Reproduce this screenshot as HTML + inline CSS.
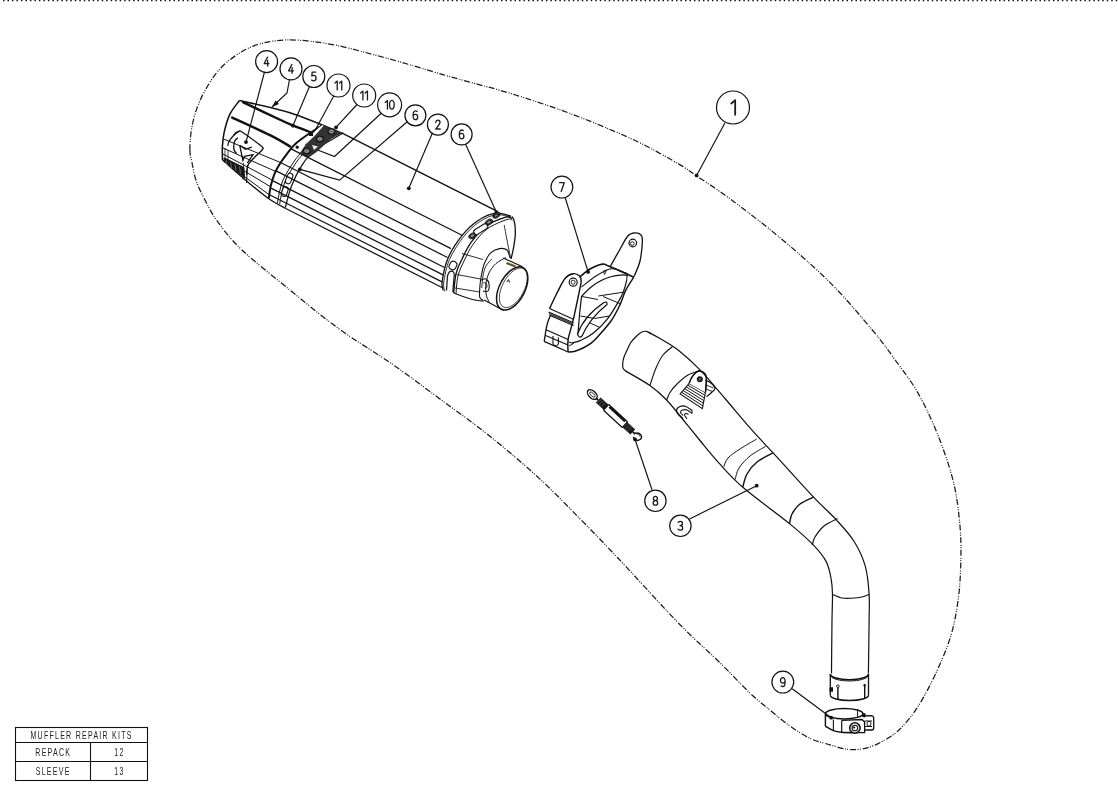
<!DOCTYPE html>
<html><head><meta charset="utf-8"><style>
html,body{margin:0;padding:0;background:#fff;width:1118px;height:791px;overflow:hidden}
svg{position:absolute;left:0;top:0}

.cl{font-family:"Liberation Sans",sans-serif;font-size:12px;fill:#1a1a1a;stroke:#fff;stroke-width:0.3;text-anchor:middle}
.cl1{font-family:"Liberation Sans",sans-serif;font-size:20px;fill:#222;text-anchor:middle}
.tb{font-family:"Liberation Sans",sans-serif;font-size:10.6px;fill:#222;text-anchor:middle;letter-spacing:1.9px}
</style></head><body>
<svg width="1118" height="791" viewBox="0 0 1118 791">
<line x1="0" y1="0.5" x2="1118" y2="0.5" stroke="#111" stroke-width="1.3" stroke-dasharray="1.5 2.9867" stroke-dashoffset="1.48"/>
<path d="M189.9,150.0 C189.8,144.6 190.3,136.9 191.4,130.1 C192.5,123.2 194.3,115.7 196.7,108.9 C199.1,102.1 202.0,95.8 205.8,89.2 C209.6,82.6 214.1,75.2 219.4,69.4 C224.7,63.6 231.5,58.3 237.6,54.3 C243.7,50.3 249.2,47.5 255.8,45.2 C262.4,42.9 269.4,41.4 277.1,40.6 C284.8,39.8 292.0,39.6 301.8,40.4 C311.6,41.2 324.2,42.9 335.8,45.2 C347.4,47.5 359.7,51.0 371.6,54.1 C383.5,57.2 395.4,60.6 407.3,64.0 C419.2,67.4 431.2,71.3 443.1,74.7 C455.0,78.1 469.4,82.0 478.9,84.6 C488.4,87.2 490.5,87.5 500.0,90.3 C509.5,93.1 523.9,97.5 535.8,101.5 C547.7,105.5 559.7,109.5 571.6,114.0 C583.5,118.5 595.4,123.2 607.3,128.3 C619.2,133.4 631.2,138.4 643.1,144.4 C655.0,150.4 670.0,158.9 678.9,164.1 C687.8,169.3 687.8,170.0 696.4,175.8 C705.0,181.7 716.5,188.7 730.6,199.2 C744.8,209.7 764.6,224.8 781.3,238.8 C798.0,252.8 815.4,267.9 830.6,283.1 C845.8,298.3 861.5,317.2 872.3,330.0 C883.1,342.8 887.6,349.5 895.2,360.0 C902.8,370.5 910.7,380.2 917.9,392.9 C925.1,405.5 932.3,421.1 938.2,435.9 C944.1,450.6 949.7,467.1 953.3,481.4 C956.9,495.7 958.3,509.0 959.6,521.8 C960.9,534.6 961.1,545.3 960.9,558.0 C960.7,570.7 960.1,584.9 958.4,597.9 C956.7,610.9 954.6,623.2 950.8,635.9 C947.0,648.5 941.1,662.0 935.6,673.8 C930.1,685.6 923.8,697.4 917.9,706.6 C912.0,715.8 905.9,723.2 900.0,729.0 C894.1,734.8 888.2,738.2 882.4,741.4 C876.6,744.6 871.0,747.0 865.3,748.3 C859.6,749.6 854.2,750.0 848.3,749.4 C842.4,748.8 836.2,746.6 830.0,744.8 C823.8,743.0 817.4,741.8 810.9,738.8 C804.4,735.8 797.5,731.3 790.7,726.6 C784.0,721.9 777.1,716.0 770.4,710.4 C763.6,704.8 759.0,701.6 750.2,693.3 C741.5,685.0 729.6,672.1 717.9,660.7 C706.2,649.3 696.7,641.8 680.0,624.7 C663.3,607.6 634.4,575.4 617.9,558.0 C601.4,540.6 594.3,533.2 581.3,520.1 C568.3,507.0 555.1,493.0 540.0,479.1 C524.9,465.2 507.3,450.2 490.6,436.8 C473.9,423.4 456.7,411.3 440.0,399.0 C423.3,386.7 407.3,374.6 390.6,363.0 C373.9,351.4 356.7,341.7 340.0,329.6 C323.3,317.5 306.9,303.9 290.6,290.6 C274.3,277.3 254.1,261.4 242.0,250.0 C229.9,238.6 224.0,230.3 217.9,222.1 C211.8,213.9 208.9,207.3 205.3,200.6 C201.7,193.8 198.6,187.9 196.4,181.6 C194.2,175.3 193.1,167.9 192.0,162.6 C190.9,157.3 190.0,155.4 189.9,150.0 Z" fill="none" stroke="#1a1a1a" stroke-width="1.25" stroke-dasharray="6 2 1 1.3 1 1.5"/>
<circle cx="266.6" cy="61.6" r="11.0" fill="none" stroke="#111" stroke-width="1.2"/>
<path d="M3.5,0 L0.2,6.4 L5.0,6.4 M3.7,3.2 L3.7,8.8" transform="translate(264.00 57.20) scale(1.000)" fill="none" stroke="#1a1a1a" stroke-width="1.30" stroke-linecap="round" stroke-linejoin="round"/>
<circle cx="291.0" cy="68.9" r="11.0" fill="none" stroke="#111" stroke-width="1.2"/>
<path d="M3.5,0 L0.2,6.4 L5.0,6.4 M3.7,3.2 L3.7,8.8" transform="translate(288.40 64.50) scale(1.000)" fill="none" stroke="#1a1a1a" stroke-width="1.30" stroke-linecap="round" stroke-linejoin="round"/>
<circle cx="313.8" cy="76.5" r="11.0" fill="none" stroke="#111" stroke-width="1.2"/>
<path d="M4.5,0 L0.9,0 L0.5,4.0 C1.1,3.5 1.7,3.3 2.4,3.3 C3.9,3.3 4.8,4.4 4.8,6.0 C4.8,7.7 3.8,8.8 2.4,8.8 C1.5,8.8 0.8,8.5 0.2,8.0" transform="translate(311.30 72.10) scale(1.000)" fill="none" stroke="#1a1a1a" stroke-width="1.30" stroke-linecap="round" stroke-linejoin="round"/>
<circle cx="338.5" cy="85.5" r="11.5" fill="none" stroke="#111" stroke-width="1.2"/>
<path d="M0.3,2.0 L2.6,0 L2.6,8.8" transform="translate(334.65 81.10) scale(1.000)" fill="none" stroke="#1a1a1a" stroke-width="1.30" stroke-linecap="round" stroke-linejoin="round"/><path d="M0.3,2.0 L2.6,0 L2.6,8.8" transform="translate(339.15 81.10) scale(1.000)" fill="none" stroke="#1a1a1a" stroke-width="1.30" stroke-linecap="round" stroke-linejoin="round"/>
<circle cx="364.2" cy="95.5" r="11.5" fill="none" stroke="#111" stroke-width="1.2"/>
<path d="M0.3,2.0 L2.6,0 L2.6,8.8" transform="translate(360.35 91.10) scale(1.000)" fill="none" stroke="#1a1a1a" stroke-width="1.30" stroke-linecap="round" stroke-linejoin="round"/><path d="M0.3,2.0 L2.6,0 L2.6,8.8" transform="translate(364.85 91.10) scale(1.000)" fill="none" stroke="#1a1a1a" stroke-width="1.30" stroke-linecap="round" stroke-linejoin="round"/>
<circle cx="389.6" cy="104.8" r="12.0" fill="none" stroke="#111" stroke-width="1.2"/>
<path d="M0.3,2.0 L2.6,0 L2.6,8.8" transform="translate(384.85 100.40) scale(1.000)" fill="none" stroke="#1a1a1a" stroke-width="1.30" stroke-linecap="round" stroke-linejoin="round"/><path d="M2.5,0 C1.0,0 0.2,1.6 0.2,4.4 C0.2,7.2 1.0,8.8 2.5,8.8 C4.0,8.8 4.8,7.2 4.8,4.4 C4.8,1.6 4.0,0 2.5,0 Z" transform="translate(389.35 100.40) scale(1.000)" fill="none" stroke="#1a1a1a" stroke-width="1.30" stroke-linecap="round" stroke-linejoin="round"/>
<circle cx="415.4" cy="115.3" r="10.5" fill="none" stroke="#111" stroke-width="1.2"/>
<path d="M4.2,0.6 C3.7,0.2 3.1,0 2.5,0 C1.0,0 0.2,1.6 0.2,4.6 C0.2,7.4 1.0,8.8 2.5,8.8 C3.9,8.8 4.8,7.6 4.8,6.0 C4.8,4.4 3.9,3.4 2.5,3.4 C1.3,3.4 0.4,4.3 0.2,5.3" transform="translate(412.90 110.90) scale(1.000)" fill="none" stroke="#1a1a1a" stroke-width="1.30" stroke-linecap="round" stroke-linejoin="round"/>
<circle cx="437.9" cy="124.6" r="10.5" fill="none" stroke="#111" stroke-width="1.2"/>
<path d="M0.3,2.1 C0.5,0.6 1.4,0 2.5,0 C3.8,0 4.6,0.9 4.6,2.2 C4.6,3.5 3.8,4.4 0.3,8.8 L4.8,8.8" transform="translate(435.40 120.20) scale(1.000)" fill="none" stroke="#1a1a1a" stroke-width="1.30" stroke-linecap="round" stroke-linejoin="round"/>
<circle cx="461.6" cy="134.4" r="10.5" fill="none" stroke="#111" stroke-width="1.2"/>
<path d="M4.2,0.6 C3.7,0.2 3.1,0 2.5,0 C1.0,0 0.2,1.6 0.2,4.6 C0.2,7.4 1.0,8.8 2.5,8.8 C3.9,8.8 4.8,7.6 4.8,6.0 C4.8,4.4 3.9,3.4 2.5,3.4 C1.3,3.4 0.4,4.3 0.2,5.3" transform="translate(459.10 130.00) scale(1.000)" fill="none" stroke="#1a1a1a" stroke-width="1.30" stroke-linecap="round" stroke-linejoin="round"/>
<circle cx="561.9" cy="187.1" r="10.9" fill="none" stroke="#111" stroke-width="1.2"/>
<path d="M0.2,0 L4.8,0 L1.8,8.8" transform="translate(559.40 182.70) scale(1.000)" fill="none" stroke="#1a1a1a" stroke-width="1.30" stroke-linecap="round" stroke-linejoin="round"/>
<circle cx="655.4" cy="500.8" r="10.7" fill="none" stroke="#111" stroke-width="1.2"/>
<path d="M2.5,4.2 C1.2,4.2 0.5,3.3 0.5,2.1 C0.5,0.9 1.3,0 2.5,0 C3.7,0 4.5,0.9 4.5,2.1 C4.5,3.3 3.8,4.2 2.5,4.2 C1.0,4.2 0.2,5.2 0.2,6.5 C0.2,7.9 1.1,8.8 2.5,8.8 C3.9,8.8 4.8,7.9 4.8,6.5 C4.8,5.2 4.0,4.2 2.5,4.2 Z" transform="translate(652.90 496.40) scale(1.000)" fill="none" stroke="#1a1a1a" stroke-width="1.30" stroke-linecap="round" stroke-linejoin="round"/>
<circle cx="680.4" cy="525.8" r="10.7" fill="none" stroke="#111" stroke-width="1.2"/>
<path d="M0.3,0.9 C0.9,0.3 1.6,0 2.5,0 C3.8,0 4.6,0.9 4.6,2.2 C4.6,3.5 3.7,4.3 2.1,4.3 C3.8,4.3 4.8,5.2 4.8,6.5 C4.8,7.9 3.8,8.8 2.4,8.8 C1.5,8.8 0.8,8.5 0.2,7.9" transform="translate(677.90 521.40) scale(1.000)" fill="none" stroke="#1a1a1a" stroke-width="1.30" stroke-linecap="round" stroke-linejoin="round"/>
<circle cx="782.8" cy="682.1" r="10.9" fill="none" stroke="#111" stroke-width="1.2"/>
<path d="M0.8,8.2 C1.3,8.6 1.9,8.8 2.5,8.8 C4.0,8.8 4.8,7.2 4.8,4.2 C4.8,1.4 4.0,0 2.5,0 C1.1,0 0.2,1.2 0.2,2.8 C0.2,4.4 1.1,5.4 2.5,5.4 C3.7,5.4 4.6,4.5 4.8,3.5" transform="translate(780.30 677.70) scale(1.000)" fill="none" stroke="#1a1a1a" stroke-width="1.30" stroke-linecap="round" stroke-linejoin="round"/>
<circle cx="733" cy="107.5" r="16.5" fill="none" stroke="#111" stroke-width="1.2"/>
<path d="M0.3,2.0 L2.6,0 L2.6,8.8" transform="translate(730.83 100.15) scale(1.670)" fill="none" stroke="#1a1a1a" stroke-width="1.08" stroke-linecap="round" stroke-linejoin="round"/>
<path d="M724.9,123.1 L696.6,175.4" fill="none" stroke="#111" stroke-width="1.15"/>
<path d="M264.5,72.0 L246.0,142.1" fill="none" stroke="#111" stroke-width="1.15"/>
<path d="M289.5,79.5 L287.0,93.0 L272.0,107.0" fill="none" stroke="#111" stroke-width="1.15"/>
<path d="M309.5,86.5 L292.9,125.7" fill="none" stroke="#111" stroke-width="1.15"/>
<path d="M334.0,95.5 L313.1,134.0" fill="none" stroke="#111" stroke-width="1.15"/>
<path d="M357.0,104.5 L336.0,127.4" fill="none" stroke="#111" stroke-width="1.15"/>
<path d="M381.5,113.0 L334.5,156.5 L310.6,147.2" fill="none" stroke="#111" stroke-width="1.15"/>
<path d="M407.5,121.5 L339.6,180.1 L299.8,169.4" fill="none" stroke="#111" stroke-width="1.15"/>
<path d="M432.0,134.0 L408.8,188.3" fill="none" stroke="#111" stroke-width="1.15"/>
<path d="M465.5,144.0 L496.4,212.2" fill="none" stroke="#111" stroke-width="1.15"/>
<path d="M565.3,198.0 L588.1,271.9" fill="none" stroke="#111" stroke-width="1.15"/>
<path d="M652.0,489.7 L635.0,439.3" fill="none" stroke="#111" stroke-width="1.15"/>
<path d="M689.6,518.9 L756.7,485.7" fill="none" stroke="#111" stroke-width="1.15"/>
<path d="M792.2,688.7 L831.2,717.7" fill="none" stroke="#111" stroke-width="1.15"/>
<circle cx="696.6" cy="175.4" r="1.9" fill="#111"/>
<circle cx="246.0" cy="142.1" r="1.9" fill="#111"/>
<circle cx="292.9" cy="125.7" r="1.9" fill="#111"/>
<circle cx="313.1" cy="134.0" r="1.9" fill="#111"/>
<circle cx="336.0" cy="127.4" r="1.9" fill="#111"/>
<circle cx="310.6" cy="147.2" r="1.9" fill="#111"/>
<circle cx="299.8" cy="169.4" r="1.9" fill="#111"/>
<circle cx="408.8" cy="188.3" r="1.9" fill="#111"/>
<circle cx="496.4" cy="212.2" r="1.9" fill="#111"/>
<circle cx="588.1" cy="271.9" r="1.9" fill="#111"/>
<circle cx="635.0" cy="439.3" r="1.9" fill="#111"/>
<circle cx="756.7" cy="485.7" r="1.9" fill="#111"/>
<circle cx="831.2" cy="717.7" r="1.9" fill="#111"/>
<path d="M272,107 L275.5,100.5 L279,104 Z" fill="#111"/>
<path d="M239.5,100.5 C247.9,102.5 272.7,107.3 290.0,112.8 C307.3,118.3 334.2,130.1 343.1,133.6" fill="none" stroke="#111" stroke-width="1.43" />
<path d="M239.5,100.5 C237.9,102.8 232.4,109.0 229.8,114.3 C227.2,119.6 225.3,127.3 224.1,132.6 C222.9,137.9 222.7,141.6 222.4,146.2 C222.1,150.8 222.5,157.8 222.5,160.1" fill="none" stroke="#111" stroke-width="1.54" />
<path d="M222.5,160.1 C226.6,163.6 239.2,174.9 246.9,181.3 C254.6,187.7 262.0,194.0 268.5,198.5 C275.0,203.0 282.8,206.8 285.7,208.5" fill="none" stroke="#111" stroke-width="1.32" />
<path d="M242.3,101.8 C248.5,104.8 271.0,115.5 279.5,119.5 C288.0,123.5 288.2,123.5 293.5,125.7 C298.8,127.9 308.1,131.4 311.0,132.5" fill="none" stroke="#111" stroke-width="2.42" />
<path d="M231.2,117.1 C237.7,120.1 260.0,130.2 270.0,135.2 C280.0,140.2 287.5,145.0 291.0,147.0" fill="none" stroke="#111" stroke-width="2.42" />
<path d="M223.5,139.0 L280.5,162.5" fill="none" stroke="#111" stroke-width="0.99" />
<path d="M223.0,148.0 L275.5,171.4" fill="none" stroke="#111" stroke-width="0.99" />
<path d="M223.0,154.0 L273.0,180.5" fill="none" stroke="#111" stroke-width="0.99" />
<path d="M223.5,158.5 L271.0,187.0" fill="none" stroke="#111" stroke-width="0.99" />
<path d="M230.0,166.0 L269.5,195.0" fill="none" stroke="#111" stroke-width="0.99" />
<path d="M224.6,157.4 L244.4,167.2 L245.2,178.7 L223,161 Z" fill="#1a1a1a"/>
<line x1="226.0" y1="160.0" x2="227.0" y2="165.0" stroke="#bbb" stroke-width="0.5"/>
<line x1="230.5" y1="162.2" x2="231.5" y2="167.8" stroke="#bbb" stroke-width="0.5"/>
<line x1="235.0" y1="164.4" x2="236.0" y2="170.6" stroke="#bbb" stroke-width="0.5"/>
<line x1="239.5" y1="166.6" x2="240.5" y2="173.4" stroke="#bbb" stroke-width="0.5"/>
<path d="M247.5,165.0 L246.5,183.0" fill="none" stroke="#111" stroke-width="0.99" />
<path d="M243.5,163.0 L243.0,180.0" fill="none" stroke="#111" stroke-width="0.77" />
<path d="M225.0,148.0 L225.0,162.0" fill="none" stroke="#111" stroke-width="0.77" />
<path d="M228.0,150.0 L228.0,164.0" fill="none" stroke="#111" stroke-width="0.77" />
<path d="M233.4,135.7 C233.8,135.2 235.1,133.2 236.0,132.5 C236.9,131.8 238.1,131.4 239.1,131.3 C240.1,131.2 238.5,129.7 242.0,132.0 C245.5,134.3 256.6,142.4 260.0,145.0 C263.4,147.6 262.2,146.7 262.5,147.5 C262.8,148.3 264.3,147.2 262.0,150.0 C259.7,152.8 251.1,160.0 248.5,164.2 C245.9,168.4 247.0,173.2 246.7,175.0" fill="none" stroke="#111" stroke-width="1.32" />
<path d="M239.1,131.3 C238.2,132.0 235.1,134.0 233.4,135.7 C231.7,137.4 229.9,139.7 229.0,141.4 C228.1,143.1 227.9,145.2 227.7,145.9" fill="none" stroke="#111" stroke-width="1.21" />
<path d="M238.0,137.6 C237.5,138.2 235.5,139.6 234.8,141.0 C234.1,142.4 233.9,144.4 233.8,146.0 C233.7,147.6 233.8,149.1 234.2,150.3 C234.6,151.6 236.1,153.0 236.5,153.5" fill="none" stroke="#111" stroke-width="1.32" />
<path d="M239.7,145.2 L245.4,149.3 L251.7,147.1 M239.7,145.2 L242.9,160.4 L244.6,156.4 L253,154.7 L247.3,163" fill="none" stroke="#111" stroke-width="1.32" />
<path d="M322.5,125.1 C320.1,126.7 312.4,131.3 307.9,134.5 C303.4,137.7 299.0,140.5 295.3,144.0 C291.6,147.5 289.0,151.1 285.8,155.4 C282.6,159.7 278.8,165.1 276.3,170.0 C273.8,174.9 272.2,180.3 271.0,185.0 C269.8,189.7 269.2,196.2 268.8,198.4" fill="none" stroke="#111" stroke-width="1.98" />
<path d="M302.0,151.5 C300.8,152.9 297.2,156.9 295.0,160.0 C292.8,163.1 290.5,166.7 288.5,170.0 C286.5,173.3 284.5,176.3 283.0,180.0 C281.5,183.7 280.4,188.2 279.5,192.0 C278.6,195.8 277.8,201.2 277.5,203.0" fill="none" stroke="#111" stroke-width="0.99" />
<path d="M304.2,152.5 C303.0,153.9 299.4,157.9 297.2,161.0 C294.9,164.1 292.7,167.7 290.7,171.0 C288.7,174.3 286.7,177.3 285.2,181.0 C283.7,184.7 282.6,189.2 281.7,193.0 C280.8,196.8 280.0,202.2 279.7,204.0" fill="none" stroke="#111" stroke-width="0.99" />
<path d="M343.4,132.7 C341.3,134.0 335.6,137.4 330.8,140.3 C326.0,143.2 319.2,146.2 314.4,150.4 C309.5,154.6 305.5,159.7 301.7,165.6 C297.9,171.5 294.3,178.8 291.6,185.8 C288.9,192.8 286.4,203.9 285.3,207.5" fill="none" stroke="#111" stroke-width="1.21" />
<path d="M305,145.5 Q314,134 323.7,125.5 L342,133 L331,139 L316,152.5 L308,158 L300,153 Z" fill="#333"/>
<path d="M323.7,125.7 C322.1,127.2 317.1,131.8 314.0,135.0 C310.9,138.2 306.8,143.1 305.4,144.7" fill="none" stroke="#111" stroke-width="0.99" />
<path d="M322.5,125.1 Q313,131 305.4,144.7 Q316,135 323.7,125.7 Z" fill="#fff"/>
<rect x="309" y="133" width="4" height="3" fill="#111"/>
<ellipse cx="306.7" cy="151.0" rx="3.4" ry="2.7" fill="#555" stroke="#111" stroke-width="1.1"/>
<ellipse cx="306.7" cy="151.0" rx="1.8" ry="1.3" fill="none" stroke="#ddd" stroke-width="0.6"/>
<ellipse cx="319.9" cy="139.0" rx="3.4" ry="2.7" fill="#555" stroke="#111" stroke-width="1.1"/>
<ellipse cx="319.9" cy="139.0" rx="1.8" ry="1.3" fill="none" stroke="#ddd" stroke-width="0.6"/>
<ellipse cx="331.4" cy="131.5" rx="3.4" ry="2.7" fill="#555" stroke="#111" stroke-width="1.1"/>
<ellipse cx="331.4" cy="131.5" rx="1.8" ry="1.3" fill="none" stroke="#ddd" stroke-width="0.6"/>
<path d="M312,145 L318,146.5 L314,150 Z" fill="#eee"/>
<circle cx="297.2" cy="147.2" r="1.6" fill="#111"/>
<rect x="-5.5" y="-2.7" width="11" height="5.4" rx="2.7" transform="translate(289.2 178.5) rotate(-68)" fill="#fff" stroke="#111" stroke-width="1.1"/>
<rect x="-5" y="-2.7" width="10" height="5.4" rx="2.7" transform="translate(284.8 191.5) rotate(-72)" fill="#fff" stroke="#111" stroke-width="1.1"/>
<path d="M343.1,133.6 L496.4,210.9" fill="none" stroke="#111" stroke-width="1.38" />
<path d="M285.7,208.5 L443.0,288.0" fill="none" stroke="#111" stroke-width="1.26" />
<path d="M291.0,148.9 L462.0,235.2" fill="none" stroke="#111" stroke-width="1.21" />
<path d="M280.5,162.5 L451.0,248.6" fill="none" stroke="#111" stroke-width="1.21" />
<path d="M275.5,170.6 L447.5,257.5" fill="none" stroke="#111" stroke-width="1.21" />
<path d="M273.0,180.9 L444.5,267.5" fill="none" stroke="#111" stroke-width="1.21" />
<path d="M271.0,188.1 L443.0,274.9" fill="none" stroke="#111" stroke-width="1.21" />
<path d="M269.5,194.7 L442.5,282.1" fill="none" stroke="#111" stroke-width="1.21" />
<path d="M511.0,216.2 C508.4,215.7 501.2,212.4 495.6,213.2 C490.0,214.0 483.1,217.2 477.4,221.0 C471.7,224.8 466.5,229.9 461.6,236.1 C456.7,242.3 451.2,250.7 448.0,258.2 C444.8,265.7 443.0,275.6 442.2,281.0 C441.4,286.4 443.0,288.9 443.2,290.5" fill="none" stroke="#111" stroke-width="1.32" />
<path d="M512.0,218.5 C511.0,218.3 510.2,215.8 505.8,217.1 C501.4,218.4 491.1,222.4 485.3,226.6 C479.5,230.8 474.9,237.1 471.1,242.4 C467.3,247.7 464.9,252.9 462.4,258.2 C459.9,263.5 457.4,268.2 456.0,274.0 C454.6,279.8 454.1,289.8 453.7,293.0" fill="none" stroke="#111" stroke-width="1.32" />
<path d="M512.5,220.5 C511.6,220.3 511.2,218.1 507.0,219.5 C502.8,220.9 492.7,224.8 487.0,229.0 C481.3,233.2 476.8,239.3 473.0,244.5 C469.2,249.7 467.0,254.8 464.5,260.0 C462.0,265.2 459.4,270.3 458.0,276.0 C456.6,281.7 456.3,291.0 456.0,294.0" fill="none" stroke="#111" stroke-width="0.99" />
<ellipse cx="472.5" cy="235.7" rx="4" ry="2.5" transform="rotate(-28 472.5 235.7)" fill="#333" stroke="#111" stroke-width="0.8"/>
<ellipse cx="472.5" cy="235.7" rx="1.8" ry="1" transform="rotate(-28 472.5 235.7)" fill="#999"/>
<ellipse cx="489.0" cy="222.1" rx="4" ry="2.5" transform="rotate(-28 489.0 222.1)" fill="#333" stroke="#111" stroke-width="0.8"/>
<ellipse cx="489.0" cy="222.1" rx="1.8" ry="1" transform="rotate(-28 489.0 222.1)" fill="#999"/>
<ellipse cx="496.4" cy="215.2" rx="4" ry="2.5" transform="rotate(-28 496.4 215.2)" fill="#333" stroke="#111" stroke-width="0.8"/>
<ellipse cx="496.4" cy="215.2" rx="1.8" ry="1" transform="rotate(-28 496.4 215.2)" fill="#999"/>
<rect x="-7.5" y="-2.7" width="15" height="5.4" rx="2" transform="translate(480.8 229.2) rotate(-32)" fill="#fff" stroke="#111" stroke-width="1.1"/>
<path d="M511.0,217.5 C508.5,217.0 501.4,213.9 496.0,214.7 C490.6,215.5 484.0,218.7 478.5,222.5 C473.0,226.3 467.8,231.3 463.0,237.5 C458.2,243.7 452.7,252.1 449.5,259.5 C446.3,266.9 444.6,276.7 443.8,282.0 C443.0,287.3 444.6,289.9 444.8,291.5" fill="none" stroke="#111" stroke-width="0.88" />
<rect x="-4.2" y="-3.4" width="8.4" height="6.8" rx="3" transform="translate(453 265.5) rotate(-62)" fill="#fff" stroke="#111" stroke-width="1.1"/>
<path d="M446.5,290.5 L447.5,276 Q449,270.5 452.5,271.3 Q455,272.5 454,277.5 L452.8,292" fill="none" stroke="#111" stroke-width="1.21" />
<path d="M512.0,216.5 C512.4,217.4 514.0,219.0 514.5,222.0 C515.0,225.0 515.5,230.2 515.3,234.5 C515.1,238.8 514.2,243.9 513.5,248.0 C512.8,252.1 511.4,257.2 511.0,259.0" fill="none" stroke="#111" stroke-width="1.32" />
<path d="M504.2,225.0 C504.7,227.5 505.9,234.5 507.0,240.0 C508.1,245.5 510.0,255.2 510.6,258.2" fill="none" stroke="#111" stroke-width="0.88" />
<path d="M453.7,293.0 C455.8,293.8 462.1,296.2 466.0,297.5 C469.9,298.8 474.4,299.9 477.4,300.5 C480.4,301.1 482.9,300.9 484.0,301.0" fill="none" stroke="#111" stroke-width="1.21" />
<path d="M462.0,253.5 L483.0,259.5" fill="none" stroke="#111" stroke-width="0.88" />
<path d="M456.9,274.5 L480.6,279.0" fill="none" stroke="#111" stroke-width="0.88" />
<path d="M455.0,288.0 L480.0,292.0" fill="none" stroke="#111" stroke-width="0.88" />
<path d="M482.8,300.2 C482.3,299.7 480.2,299.7 479.7,297.2 C479.2,294.7 479.7,288.6 480.0,285.0 C480.3,281.4 480.6,279.4 481.3,275.9 C482.0,272.4 482.8,267.6 484.3,263.8 C485.8,260.0 487.9,255.6 490.4,253.1 C492.9,250.6 496.7,249.1 499.5,248.6 C502.3,248.1 505.2,248.5 507.0,250.0 C508.8,251.5 509.5,256.4 510.0,257.7" fill="none" stroke="#111" stroke-width="1.10" />
<path d="M503.2,258.0 L522.5,266.8" fill="none" stroke="#111" stroke-width="1.21" />
<path d="M484.2,300.0 L501.3,309.2" fill="none" stroke="#111" stroke-width="1.21" />
<path d="M506.0,257.5 C504.3,258.5 498.8,260.9 496.0,263.5 C493.2,266.1 490.7,269.4 489.0,273.0 C487.3,276.6 486.2,281.2 485.8,285.0 C485.4,288.8 485.9,293.1 486.5,296.0 C487.1,298.9 489.0,301.4 489.5,302.5" fill="none" stroke="#111" stroke-width="0.99" />
<path d="M491.8,259.0 C490.8,260.2 487.5,263.2 486.0,266.0 C484.5,268.8 483.7,272.3 483.0,276.0 C482.3,279.7 482.0,286.0 481.8,288.0" fill="none" stroke="#111" stroke-width="0.88" />
<ellipse cx="512.2" cy="288.4" rx="23.5" ry="12.7" transform="rotate(-62.4 512.2 288.4)" fill="#fff" stroke="#111" stroke-width="1.5"/>
<ellipse cx="513.3" cy="287.8" rx="21.6" ry="11" transform="rotate(-62.4 513.3 287.8)" fill="none" stroke="#111" stroke-width="0.7"/>
<path d="M507,282 L508.5,279.5 L509.5,282.5" fill="none" stroke="#111" stroke-width="0.99" />
<path d="M481.0,280.0 C481.8,279.8 484.7,278.3 486.0,279.0 C487.3,279.7 488.7,282.0 489.0,284.0 C489.3,286.0 489.0,289.8 488.0,291.0 C487.0,292.2 483.8,291.0 483.0,291.0" fill="none" stroke="#111" stroke-width="1.10" />
<path d="M483.0,283.0 C483.5,283.0 485.3,282.3 486.0,283.0 C486.7,283.7 487.2,286.0 487.0,287.0 C486.8,288.0 485.3,288.7 485.0,289.0" fill="none" stroke="#111" stroke-width="0.88" />
<path d="M507,262 L516,265.5 L515,267.5 L506,264 Z" fill="#6b4a22"/>
<path d="M610.0,267.0 C611.5,264.3 616.0,256.2 619.0,251.0 C622.0,245.8 625.3,238.8 628.0,235.8 C630.7,232.8 633.0,232.9 635.2,232.8 C637.4,232.7 639.8,233.6 641.0,235.0 C642.2,236.4 642.6,236.7 642.4,241.0 C642.2,245.3 641.4,255.1 640.0,261.0 C638.6,266.9 635.0,274.0 634.0,276.6" fill="none" stroke="#111" stroke-width="1.32" />
<circle cx="632.8" cy="243" r="3.8" fill="none" stroke="#111" stroke-width="1.2"/>
<circle cx="632.3" cy="243.5" r="1.8" fill="none" stroke="#111" stroke-width="0.9"/>
<path d="M580.2,276.7 C581.8,275.4 586.3,271.1 590.0,269.0 C593.7,266.9 599.3,264.6 602.4,264.1 C605.5,263.6 605.6,265.0 608.5,266.1 C611.4,267.2 615.8,269.1 620.0,271.0 C624.2,272.9 631.5,276.2 633.8,277.2" fill="none" stroke="#111" stroke-width="1.65" />
<path d="M581.5,287.0 C583.9,285.2 591.2,279.0 596.0,276.0 C600.8,273.0 606.0,269.9 610.0,269.0 C614.0,268.1 617.3,269.8 620.0,270.5 C622.7,271.2 625.0,273.0 626.0,273.5" fill="none" stroke="#111" stroke-width="1.10" />
<path d="M581.6,296.1 C583.0,294.8 587.2,290.4 590.0,288.0 C592.8,285.6 595.1,283.8 598.4,282.0 C601.7,280.2 605.9,278.2 610.0,277.0 C614.1,275.8 620.4,275.1 623.2,274.9 C626.0,274.7 626.4,275.8 627.0,276.0" fill="none" stroke="#111" stroke-width="1.21" />
<path d="M603.5,271 L606.5,270 L604.5,274.5 Z" fill="none" stroke="#111" stroke-width="0.88" />
<path d="M622.0,272.0 L627.5,273.5 L626.7,280.2" fill="none" stroke="#111" stroke-width="0.99" />
<path d="M581.6,296.1 C581.3,298.8 580.4,305.8 579.8,312.0 C579.2,318.2 578.3,329.8 578.0,333.3" fill="none" stroke="#111" stroke-width="1.21" />
<path d="M626.7,280.2 C626.2,281.8 625.2,286.8 624.0,290.0 C622.8,293.2 622.4,294.8 619.6,299.6 C616.8,304.5 611.7,313.5 607.3,319.1 C602.9,324.7 597.5,329.8 593.1,333.3 C588.7,336.9 584.2,338.8 580.7,340.4 C577.2,342.0 573.5,342.6 572.0,343.0" fill="none" stroke="#111" stroke-width="1.21" />
<path d="M568.1,352.0 C569.2,351.9 572.5,351.9 575.0,351.2 C577.5,350.5 580.3,349.4 583.0,348.0 C585.7,346.6 588.6,345.0 591.1,343.1 C593.6,341.2 594.7,340.2 598.0,336.5 C601.3,332.8 607.4,326.1 611.0,321.0 C614.6,315.9 617.1,310.7 619.6,305.6 C622.1,300.5 623.3,295.1 625.7,290.4 C628.1,285.7 632.4,279.4 633.8,277.2" fill="none" stroke="#111" stroke-width="1.43" />
<path d="M577.5,334 Q584,316 604,302.5 Q607.5,301 607,304.5 Q590,318 582,336 Q579,339 577.5,334 Z" fill="none" stroke="#111" stroke-width="1.21" />
<path d="M582.0,296.5 L598.0,299.5" fill="none" stroke="#111" stroke-width="0.99" />
<path d="M598.4,296.0 L624.5,292.0" fill="none" stroke="#111" stroke-width="0.99" />
<path d="M580.5,316.0 L594.5,318.5" fill="none" stroke="#111" stroke-width="0.99" />
<path d="M594.5,318.5 L609.5,316.0" fill="none" stroke="#111" stroke-width="0.99" />
<path d="M603.0,296.5 L621.0,304.0" fill="none" stroke="#111" stroke-width="0.99" />
<path d="M589.0,322.5 L600.0,327.5" fill="none" stroke="#111" stroke-width="0.99" />
<path d="M549.5,308.6 C550.8,306.0 554.4,298.1 557.0,293.0 C559.6,287.9 562.5,281.4 565.2,278.2 C567.9,275.0 570.7,274.1 573.1,273.7 C575.5,273.3 578.1,274.7 579.5,276.0 C580.9,277.3 581.2,279.0 581.2,281.3 C581.2,283.6 580.9,283.7 579.6,290.0 C578.3,296.3 575.3,310.9 573.4,319.2 C571.5,327.5 569.0,334.1 568.1,339.6 C567.2,345.1 568.1,349.9 568.1,352.0" fill="none" stroke="#111" stroke-width="1.43" />
<circle cx="573.2" cy="282.2" r="4" fill="none" stroke="#111" stroke-width="1.2"/>
<circle cx="573.2" cy="282.2" r="2" fill="none" stroke="#111" stroke-width="0.9"/>
<path d="M549.5,308.6 L573.4,319.2" fill="none" stroke="#111" stroke-width="1.10" />
<path d="M548.6,312.1 L573.4,322.7" fill="none" stroke="#111" stroke-width="1.10" />
<path d="M549.5,315.2 L573.4,325.5" fill="none" stroke="#111" stroke-width="1.10" />
<path d="M548.6,312.6 L573.4,323.2 L573.4,325 L549.5,314.7 Z" fill="#444"/>
<path d="M550.4,315.5 C549.9,316.8 548.2,320.6 547.5,323.0 C546.8,325.4 546.5,326.8 546.0,329.8 C545.5,332.9 544.5,339.4 544.2,341.3" fill="none" stroke="#111" stroke-width="1.32" />
<path d="M544.2,341.3 L568.1,352.0" fill="none" stroke="#111" stroke-width="1.32" />
<path d="M546.0,329.8 L568.1,339.6" fill="none" stroke="#111" stroke-width="1.10" />
<path d="M545.0,335.2 L568.1,345.0" fill="none" stroke="#111" stroke-width="1.10" />
<path d="M553,336 L553,344 Q555.7,347.5 558.4,344 L558.4,337.5" fill="none" stroke="#111" stroke-width="1.10" />
<path d="M568.5,342 L573.5,343.5 L569,346" fill="none" stroke="#111" stroke-width="0.99" />
<g transform="translate(615.5 416) rotate(42.8) scale(1.07)"><rect x="-22" y="-3.3" width="10.5" height="6.6" fill="#1a1a1a"/><rect x="11.5" y="-3.3" width="10.5" height="6.6" fill="#1a1a1a"/><line x1="-20.0" y1="-3.2" x2="-21.2" y2="3.2" stroke="#666" stroke-width="0.5"/><line x1="-17.5" y1="-3.2" x2="-18.7" y2="3.2" stroke="#666" stroke-width="0.5"/><line x1="-15.0" y1="-3.2" x2="-16.2" y2="3.2" stroke="#666" stroke-width="0.5"/><line x1="13.5" y1="-3.2" x2="12.3" y2="3.2" stroke="#666" stroke-width="0.5"/><line x1="16.0" y1="-3.2" x2="14.8" y2="3.2" stroke="#666" stroke-width="0.5"/><line x1="18.5" y1="-3.2" x2="17.3" y2="3.2" stroke="#666" stroke-width="0.5"/><rect x="-12" y="-3.6" width="24" height="7.2" rx="0.8" fill="#fff" stroke="#111" stroke-width="1.2"/><path d="M-10,-2.4 L10,-2.4" stroke="#111" stroke-width="2.2"/><path d="M-22,0 L-25,0 M22,0 L25,0" stroke="#111" stroke-width="1.6"/><ellipse cx="-29.5" cy="0" rx="5.5" ry="3.3" fill="none" stroke="#111" stroke-width="1.3"/><ellipse cx="-29.5" cy="0" rx="3.2" ry="1.4" fill="none" stroke="#111" stroke-width="0.8"/><path d="M24,0 Q27,-5 31,-2.5 Q33,0 30.5,3 Q28,4.5 25.5,3" fill="none" stroke="#111" stroke-width="1.3"/><path d="M25.5,-1 Q28,-3.5 30,-1.5" fill="none" stroke="#111" stroke-width="0.7"/></g>
<path d="M648.5,332.3 C650.4,333.3 655.1,335.6 660.0,338.5 C664.9,341.4 671.4,344.7 678.1,350.0 C684.8,355.3 692.5,362.1 700.3,370.2 C708.1,378.3 716.7,388.9 725.0,398.5 C733.3,408.1 742.0,418.8 750.0,427.9 C758.0,437.0 762.5,441.4 773.1,452.9 C783.7,464.4 803.0,486.0 813.5,497.1 C824.0,508.2 829.5,512.4 836.3,519.8 C843.0,527.2 849.1,533.5 854.0,541.3 C858.9,549.1 862.9,557.8 865.4,566.6 C867.9,575.5 868.5,585.5 869.1,594.4 C869.7,603.3 869.2,606.8 869.1,620.0 C869.0,633.2 868.5,664.6 868.4,673.5" fill="none" stroke="#111" stroke-width="1.21" />
<path d="M625.5,371.0 C629.6,373.4 643.0,380.7 649.9,385.5 C656.8,390.3 661.0,394.2 666.6,400.0 C672.2,405.8 677.7,413.2 683.3,420.0 C688.9,426.8 693.9,433.1 700.0,440.5 C706.1,447.9 712.7,456.2 720.0,464.2 C727.3,472.2 732.4,478.4 744.0,488.3 C755.6,498.2 777.9,514.1 789.5,523.6 C801.1,533.1 807.4,538.8 813.5,545.1 C819.6,551.4 823.2,555.9 826.2,561.6 C829.2,567.3 830.2,573.8 831.2,579.3 C832.2,584.8 832.4,587.6 832.5,594.4 C832.6,601.2 832.2,606.8 832.0,620.0 C831.8,633.2 831.6,664.6 831.5,673.5" fill="none" stroke="#111" stroke-width="1.21" />
<path d="M651.0,333.7 C650.2,333.3 648.0,331.5 646.3,331.3 C644.6,331.1 642.7,331.6 641.0,332.5 C639.3,333.4 637.6,335.1 635.9,336.8 C634.1,338.6 631.9,340.9 630.5,343.0 C629.1,345.1 628.6,347.0 627.5,349.3 C626.4,351.6 624.8,354.6 624.0,357.0 C623.2,359.4 622.8,362.0 622.7,363.9 C622.6,365.8 622.6,367.2 623.2,368.5 C623.8,369.8 626.0,371.1 626.5,371.6" fill="none" stroke="#111" stroke-width="1.21" />
<path d="M672.6,346.5 C671.0,347.9 665.8,351.4 663.0,355.0 C660.2,358.6 658.2,362.9 656.0,368.0 C653.8,373.1 650.9,382.6 649.9,385.5" fill="none" stroke="#111" stroke-width="1.10" />
<path d="M700.3,370.2 C698.2,371.0 691.9,372.7 688.0,375.0 C684.1,377.3 680.0,381.1 677.0,384.0 C674.0,386.9 671.7,389.8 670.0,392.5 C668.3,395.2 667.2,398.8 666.6,400.0" fill="none" stroke="#111" stroke-width="1.10" />
<path d="M756.7,439.0 C753.9,440.7 744.8,445.8 740.0,449.0 C735.2,452.2 730.7,455.0 728.0,458.0 C725.3,461.0 724.5,465.3 723.8,466.8" fill="none" stroke="#111" stroke-width="0.99" />
<path d="M765.5,446.5 C762.9,448.1 754.4,452.4 750.0,456.0 C745.6,459.6 741.5,464.1 739.0,468.0 C736.5,471.9 735.8,477.5 735.2,479.4" fill="none" stroke="#111" stroke-width="0.99" />
<path d="M773.1,452.9 C770.4,454.4 761.4,458.5 757.0,462.0 C752.6,465.5 749.4,469.8 747.0,474.0 C744.6,478.2 743.5,484.8 742.8,487.0" fill="none" stroke="#111" stroke-width="1.43" />
<path d="M813.5,497.1 C811.2,498.2 803.6,501.2 800.0,504.0 C796.4,506.8 793.8,510.7 792.0,514.0 C790.2,517.3 789.9,522.0 789.5,523.6" fill="none" stroke="#111" stroke-width="1.43" />
<path d="M837.5,518.6 C835.2,519.8 827.8,522.9 824.0,526.0 C820.2,529.1 817.0,533.8 815.0,537.0 C813.0,540.2 812.8,543.8 812.3,545.1" fill="none" stroke="#111" stroke-width="1.21" />
<path d="M832.5,594.4 C834.1,595.0 838.9,597.4 842.0,598.0 C845.1,598.6 848.1,598.4 851.4,598.2 C854.7,598.0 859.0,597.6 862.0,597.0 C865.0,596.4 867.9,594.8 869.1,594.4" fill="none" stroke="#111" stroke-width="1.10" />
<path d="M689.2,383.4 L705.4,392.5 L702.4,408.6 L680.1,394 Z" fill="#fff" stroke="#111" stroke-width="1.1"/>
<path d="M687.7,385.2 L704.9,395.2" fill="none" stroke="#111" stroke-width="0.99" />
<path d="M686.2,386.9 L704.4,397.9" fill="none" stroke="#111" stroke-width="0.99" />
<path d="M684.7,388.7 L703.9,400.6" fill="none" stroke="#111" stroke-width="0.99" />
<path d="M683.1,390.5 L703.4,403.2" fill="none" stroke="#111" stroke-width="0.99" />
<path d="M681.6,392.2 L702.9,405.9" fill="none" stroke="#111" stroke-width="0.99" />
<path d="M689.2,383.4 C689.6,382.4 690.5,379.4 691.7,377.5 C692.9,375.6 694.9,373.2 696.3,372.2 C697.7,371.1 698.8,370.9 700.3,371.2 C701.8,371.5 704.0,372.8 705.0,374.0 C706.0,375.2 706.2,376.3 706.4,378.3 C706.6,380.3 706.2,383.6 706.0,386.0 C705.8,388.4 705.5,391.4 705.4,392.5" fill="none" stroke="#111" stroke-width="1.32" />
<path d="M691.5,379 L704,386 L705.4,392.5 L689.2,383.4 Z" fill="#fff"/>
<path d="M689.2,383.4 C689.6,382.4 690.5,379.4 691.7,377.5 C692.9,375.6 694.9,373.2 696.3,372.2 C697.7,371.1 698.8,370.9 700.3,371.2 C701.8,371.5 704.0,372.8 705.0,374.0 C706.0,375.2 706.2,376.3 706.4,378.3 C706.6,380.3 706.2,383.6 706.0,386.0 C705.8,388.4 705.5,391.4 705.4,392.5" fill="none" stroke="#111" stroke-width="1.32" />
<circle cx="699.8" cy="379.3" r="3" fill="#1a1a1a"/>
<circle cx="699.8" cy="379.3" r="1.1" fill="#777"/>
<path d="M705.4,380.3 C706.3,380.8 709.4,381.6 711.0,383.0 C712.6,384.4 715.0,386.7 715.0,388.4 C715.0,390.1 712.4,391.6 711.0,393.0 C709.6,394.4 707.2,395.9 706.4,396.5" fill="none" stroke="#111" stroke-width="1.21" />
<path d="M706.0,385.0 L713.5,388.0" fill="none" stroke="#111" stroke-width="0.88" />
<path d="M705.8,389.0 L712.5,391.5" fill="none" stroke="#111" stroke-width="0.88" />
<path d="M692.0,410.5 C691.0,409.8 688.0,407.2 686.0,406.5 C684.0,405.8 681.6,405.9 680.0,406.5 C678.4,407.1 676.8,408.8 676.5,410.0 C676.2,411.2 676.9,412.6 678.0,414.0 C679.1,415.4 682.2,417.8 683.0,418.5" fill="none" stroke="#111" stroke-width="1.32" />
<path d="M692.0,413.5 C691.2,412.9 688.6,410.6 687.0,410.0 C685.4,409.4 683.6,409.6 682.5,410.0 C681.4,410.4 680.4,411.6 680.5,412.5 C680.6,413.4 682.6,415.0 683.0,415.5" fill="none" stroke="#111" stroke-width="1.10" />
<path d="M688.5,414.5 C688.1,414.3 686.7,413.4 686.0,413.5 C685.3,413.6 684.3,414.1 684.5,415.0 C684.7,415.9 686.6,418.2 687.0,418.8" fill="none" stroke="#111" stroke-width="1.10" />
<path d="M692.0,410.5 L692.0,413.5" fill="none" stroke="#111" stroke-width="1.10" />
<path d="M830.3,674.1 L830.3,695.3" fill="none" stroke="#111" stroke-width="1.32" />
<path d="M868.5,674.1 L868.5,695.5" fill="none" stroke="#111" stroke-width="1.32" />
<path d="M830.3,674.1 A19.1,5.6 0 0 0 868.5,674.1" fill="none" stroke="#111" stroke-width="1.54" />
<path d="M830.8,675.6 A18.6,5.4 0 0 0 868,675.6" fill="none" stroke="#111" stroke-width="0.99" />
<path d="M830.3,695.3 A19.1,5.2 0 0 0 868.5,695.3" fill="none" stroke="#111" stroke-width="1.43" />
<path d="M837.9,686.2 L837.9,699.4" fill="none" stroke="#111" stroke-width="1.43" />
<path d="M864.7,685.2 L864.7,698.4" fill="none" stroke="#111" stroke-width="1.43" />
<circle cx="837.9" cy="686.2" r="1.3" fill="#fff" stroke="#111" stroke-width="0.9"/><circle cx="864.7" cy="685.2" r="1.2" fill="#111"/>
<rect x="829.5" y="687.2" width="3.5" height="4.5" fill="#111"/>
<path d="M825.4,714.0 L825.4,726.3" fill="none" stroke="#111" stroke-width="1.43" />
<path d="M825.4,726.3 C826.7,727.0 830.7,729.6 833.4,730.6 C836.1,731.6 838.4,731.9 841.5,732.2 C844.6,732.6 850.4,732.6 852.2,732.7" fill="none" stroke="#111" stroke-width="1.54" />
<path d="M833.4,719.5 L833.4,730.6" fill="none" stroke="#111" stroke-width="1.10" />
<path d="M841.7,720.4 L841.7,732.2" fill="none" stroke="#111" stroke-width="1.21" />
<path d="M841.7,720.4 L862,719.5 L864.6,722 L864.6,732.7 L852,732.7" fill="none" stroke="#111" stroke-width="1.32" />
<path d="M862,716 L871.5,715.6 Q873.7,716 873.7,718 L873.7,728 Q873.7,730 871.5,730 L864.6,730" fill="none" stroke="#111" stroke-width="1.32" />
<path d="M864.6,721 L872,721 M864.6,726.5 L872,726.5" fill="none" stroke="#111" stroke-width="0.99" />
<ellipse cx="869" cy="723.7" rx="2" ry="2.4" fill="none" stroke="#111" stroke-width="0.9"/>
<ellipse cx="864.2" cy="715.3" rx="1.6" ry="2.2" fill="#111"/>
<ellipse cx="844.2" cy="713.7" rx="18.7" ry="5.2" fill="none" stroke="#111" stroke-width="1.5"/>
<path d="M857.6,709.5 L857.6,718.0" fill="none" stroke="#111" stroke-width="0.99" />
<circle cx="854.9" cy="728" r="5.2" fill="#fff" stroke="#111" stroke-width="1.6"/>
<circle cx="854.9" cy="728" r="2.8" fill="none" stroke="#111" stroke-width="1.1"/>
<circle cx="854.2" cy="727.5" r="1.1" fill="#111"/>
<rect x="15.5" y="727.5" width="132" height="53" fill="none" stroke="#111" stroke-width="1.1"/>
<line x1="15.5" y1="742.5" x2="147.5" y2="742.5" stroke="#111" stroke-width="1.1"/>
<line x1="15.5" y1="761.5" x2="147.5" y2="761.5" stroke="#111" stroke-width="1.1"/>
<line x1="90.5" y1="742.5" x2="90.5" y2="780.5" stroke="#111" stroke-width="1.1"/>
<g style="filter:grayscale(1)">
<text class="tb" transform="translate(81.6 739) scale(0.664 1)">MUFFLER REPAIR KITS</text>
<text class="tb" transform="translate(53.3 756) scale(0.664 1)">REPACK</text>
<text class="tb" transform="translate(119.5 756) scale(0.664 1)">12</text>
<text class="tb" transform="translate(53.2 775.2) scale(0.664 1)">SLEEVE</text>
<text class="tb" transform="translate(119.5 775.2) scale(0.664 1)">13</text>
</g>
</svg>
</body></html>
